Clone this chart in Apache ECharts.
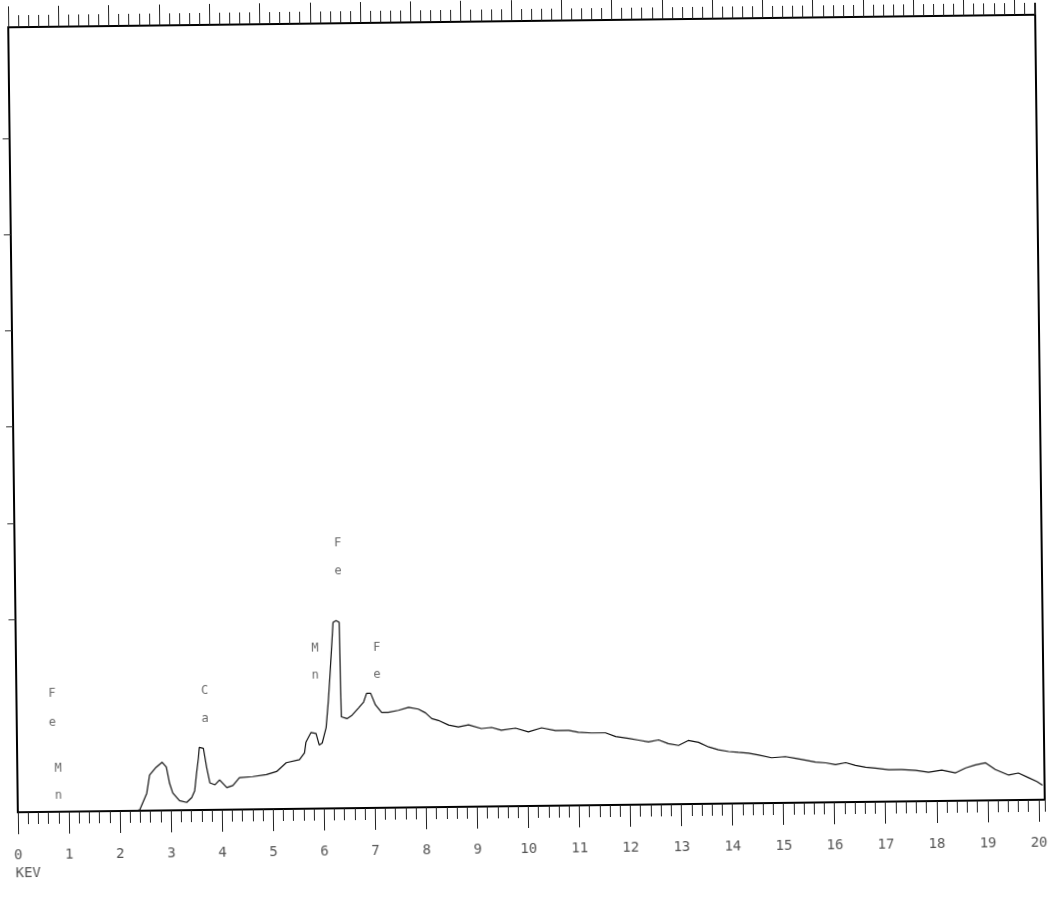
<!DOCTYPE html>
<html><head><meta charset="utf-8">
<script src="https://cdn.jsdelivr.net/npm/echarts@6/dist/echarts.min.js"></script>
<style>
html,body{margin:0;padding:0;background:#fff;overflow:hidden;width:1051px;height:906px}
#c{position:absolute;left:0;top:0;width:1051px;height:906px;transform:rotate(-0.7deg);transform-origin:526.5px 413.5px;}
</style></head><body><div id="c"></div>
<script>
// Spectrum (energy in keV, intensity in axis units)
const energyKeV = [0,2.30,2.39,2.53,2.59,2.72,2.84,2.92,2.98,3.04,3.17,3.31,3.41,3.47,3.51,3.55,3.57,3.65,3.71,3.77,3.87,3.96,4.10,4.22,4.35,4.61,4.88,5.08,5.27,5.53,5.63,5.66,5.76,5.86,5.92,5.98,6.06,6.11,6.15,6.22,6.28,6.34,6.36,6.47,6.56,6.70,6.80,6.86,6.94,7.03,7.15,7.28,7.48,7.68,7.87,8.01,8.13,8.26,8.46,8.65,8.85,9.10,9.30,9.49,9.77,10.02,10.28,10.55,10.81,11.00,11.26,11.53,11.73,11.98,12.18,12.37,12.57,12.76,12.96,13.15,13.35,13.55,13.74,13.94,14.13,14.33,14.53,14.78,15.05,15.25,15.45,15.64,15.84,16.03,16.23,16.42,16.62,16.81,17.07,17.32,17.60,17.85,18.11,18.38,18.58,18.77,18.97,19.16,19.42,19.61,19.81,19.97,20.08];
const counts = [0,0,0.01,0.18,0.37,0.45,0.50,0.45,0.28,0.18,0.10,0.08,0.13,0.20,0.38,0.54,0.65,0.64,0.44,0.28,0.26,0.31,0.23,0.25,0.33,0.34,0.36,0.39,0.48,0.51,0.58,0.69,0.79,0.78,0.66,0.68,0.84,1.12,1.40,1.93,1.95,1.93,0.95,0.93,0.96,1.04,1.10,1.19,1.19,1.07,0.99,0.99,1.01,1.04,1.02,0.98,0.92,0.90,0.85,0.83,0.85,0.81,0.82,0.79,0.81,0.77,0.81,0.78,0.78,0.76,0.75,0.75,0.71,0.69,0.67,0.65,0.67,0.63,0.61,0.66,0.64,0.59,0.56,0.54,0.53,0.52,0.50,0.47,0.48,0.46,0.44,0.42,0.41,0.39,0.41,0.38,0.36,0.35,0.33,0.33,0.32,0.30,0.32,0.29,0.34,0.37,0.39,0.32,0.26,0.28,0.23,0.19,0.15];

// Peak identification letters (stacked vertically)
const peakLetters = ['F','e','M','n','C','a','M','n','F','e','F','e'];
const peakKeV     = [0.70,0.70,0.80,0.80,3.69,3.69,5.86,5.86,6.33,6.33,7.07,7.07];
const peakLevel   = [1.23,0.93,0.45,0.17,1.24,0.95,1.66,1.38,2.75,2.46,1.66,1.38];

// Axis ticks
const xTickValues = [0,1,2,3,4,5,6,7,8,9,10,11,12,13,14,15,16,17,18,19,20];
const xTickLabels = ['0','1','2','3','4','5','6','7','8','9','10','11','12','13','14','15','16','17','18','19','20'];
const topTickValues = [0,1,2,3,4,5,6,7,8,9,10,11,12,13,14,15,16,17,18,19,20];
const yTickValues = [2,3,4,5,6,7];
const axisTitle = 'KEV';

const X_MAX = 20.12, TOP_MAX = 20.42, Y_MAX = 8.15;
const mono = 'DejaVu Sans Mono';

const chart = echarts.init(document.getElementById('c'), null, {renderer:'canvas'});
const spectrum = energyKeV.map((e,i)=>[e, counts[i]]);
const peaks = peakKeV.map((e,i)=>[e, peakLevel[i], peakLetters[i]]);

chart.setOption({
  animation:false,
  backgroundColor:'#fff',
  grid:{left:13, right:11, top:21, bottom:100, show:true, borderColor:'#000', borderWidth:2, outerBoundsMode:'none'},
  xAxis:[
    {type:'value', position:'bottom', min:0, max:X_MAX, interval:0.2,
     axisLine:{show:true, lineStyle:{color:'#000', width:2}},
     axisTick:{show:true, length:12, lineStyle:{color:'#222', width:1}},
     axisLabel:{show:false}, splitLine:{show:false}},
    {type:'value', position:'bottom', min:0, max:X_MAX, interval:1,
     axisLine:{show:false},
     axisTick:{show:true, length:22, customValues:xTickValues, lineStyle:{color:'#222', width:1}},
     axisLabel:{show:true, customValues:xTickValues, margin:36, fontSize:14, fontFamily:mono, color:'#555',
       formatter:(v)=>{const i=xTickValues.indexOf(Math.round(v)); return i>=0?xTickLabels[i]:'';}},
     splitLine:{show:false}},
    {type:'value', position:'top', min:0, max:TOP_MAX, interval:0.2,
     axisLine:{show:true, lineStyle:{color:'#000', width:2}},
     axisTick:{show:true, length:12, lineStyle:{color:'#222', width:1}},
     axisLabel:{show:false}, splitLine:{show:false}},
    {type:'value', position:'top', min:0, max:TOP_MAX, interval:1,
     axisLine:{show:false},
     axisTick:{show:true, length:22, customValues:topTickValues, lineStyle:{color:'#222', width:1}},
     axisLabel:{show:false}, splitLine:{show:false}}
  ],
  yAxis:[
    {type:'value', position:'left', min:0, max:Y_MAX, interval:1,
     axisLine:{show:true, lineStyle:{color:'#000', width:2}},
     axisTick:{show:true, length:7, customValues:yTickValues, lineStyle:{color:'#333', width:1}},
     axisLabel:{show:false}, splitLine:{show:false}}
  ],
  graphic:[
    {type:'text', left:10, top:860, style:{text:axisTitle, font:'14px "DejaVu Sans Mono"', fill:'#555'}}
  ],
  series:[
    {type:'line', xAxisIndex:0, yAxisIndex:0, data:spectrum, showSymbol:false, symbol:'none',
     lineStyle:{color:'#111', width:1.2}, z:3},
    {type:'scatter', xAxisIndex:0, yAxisIndex:0, data:peaks, symbolSize:2, itemStyle:{color:'rgba(0,0,0,0)'},
     label:{show:true, position:'inside', formatter:(p)=>p.data[2], fontFamily:mono, fontSize:12, color:'#444'}, z:4}
  ]
});
</script></body></html>
